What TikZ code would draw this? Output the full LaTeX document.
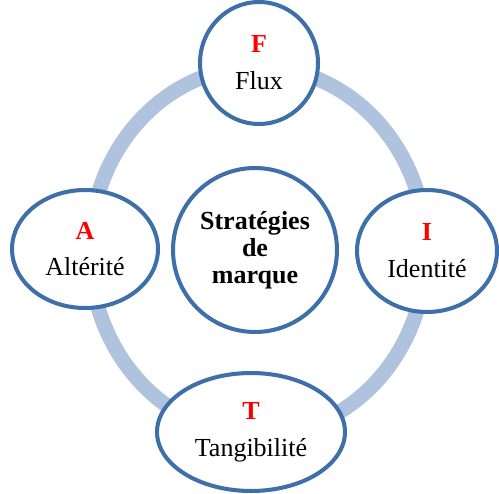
\documentclass[tikz,border=0pt]{standalone}
\usepackage{fontspec}
\setmainfont{Liberation Serif}
\usepackage{tikz}
\usetikzlibrary{shapes.geometric}
\definecolor{ringColor}{HTML}{AFC2DE}
\definecolor{outlineColor}{HTML}{3E6FA8}
\definecolor{letterColor}{HTML}{FF0000}
\tikzset{
  pole/.style={ellipse, draw=outlineColor, line width=2.3pt, fill=white, inner sep=0pt, align=center, font=\fontsize{14.8}{16}\selectfont},
  hub/.style={circle, draw=outlineColor, line width=2.3pt, fill=white, inner sep=0pt, align=center, minimum size=3.28cm, font=\fontsize{14.8}{15.5}\selectfont\bfseries}
}
\newcommand{\initiale}[1]{\textcolor{letterColor}{\textbf{#1}}}

\begin{document}
\begin{tikzpicture}[x=0.02cm, y=-0.02cm]
          \useasboundingbox (0,0) rectangle (499,493);
          % anneau
          \draw[ringColor, line width=8.5pt] (258,251) ellipse (3.36cm and 3.68cm);

          \node[hub] (strat) at (255,250) {Stratégies\\de\\marque};

          \node[pole, minimum width=2.36cm, minimum height=2.44cm] (flux) at (259,63) {\initiale{F}\\[5pt]Flux};
          \node[pole, minimum width=2.92cm, minimum height=2.36cm] (alt) at (85,249) {\initiale{A}\\[5pt]Altérité};
          \node[pole, minimum width=2.80cm, minimum height=2.44cm] (ident) at (427,251) {\initiale{I}\\[5pt]Identité};
          \node[pole, minimum width=3.76cm, minimum height=2.36cm] (tang) at (251,432) {\initiale{T}\\[5pt]Tangibilité};
        \end{tikzpicture}
\end{document}
